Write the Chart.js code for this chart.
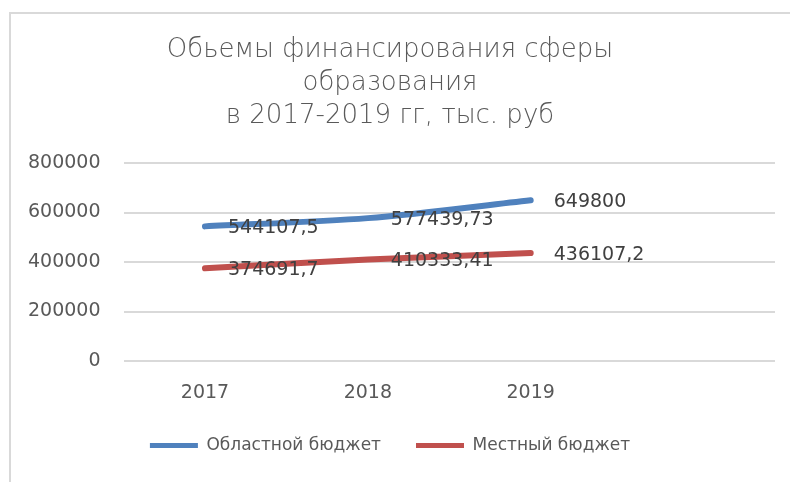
<!DOCTYPE html>
<html>
<head>
<meta charset="utf-8">
<script src="https://cdn.jsdelivr.net/npm/chart.js@4"></script>
<style>
  body { margin: 0; background: #fff; }
  #wrap { position: relative; width: 790px; height: 482px; overflow: hidden; }
  #frame { position: absolute; left: 9px; top: 12px; width: 800px; height: 500px;
           border-left: 2px solid #d9d9d9; border-top: 2px solid #d9d9d9; box-sizing: border-box; }
  canvas { position: absolute; left: 0; top: 0; }
</style>
</head>
<body>
<div id="wrap">
  <div id="frame"></div>
  <canvas id="eduChart" width="790" height="482"></canvas>
</div>
<script>
// Years (last slot is empty, as in the original)
const years = ['2017', '2018', '2019', ''];
const regionalBudget = [544107.5, 577439.73, 649800];
const localBudget = [374691.7, 410333.41, 436107.2];
const yTicks = [0, 200000, 400000, 600000, 800000];

const textColor = '#595959';
const labelFont = { family: 'DejaVu Sans', size: 19 };

// Value labels to the right of each point
const valueLabels = {
    id: 'valueLabels',
    afterDatasetsDraw(chart) {
        const ctx = chart.ctx;
        ctx.save();
        ctx.font = '19px "DejaVu Sans"';
        ctx.fillStyle = '#404040';
        ctx.textBaseline = 'middle';
        ctx.textAlign = 'left';
        chart.data.datasets.forEach((ds, i) => {
            chart.getDatasetMeta(i).data.forEach((pt, j) => {
                const v = ds.data[j];
                if (v == null) return;
                ctx.fillText(String(v).replace('.', ','), pt.x + 23, pt.y + 2);
            });
        });
        ctx.restore();
    }
};

const ctx = document.getElementById('eduChart').getContext('2d');
const eduChart = new Chart(ctx, {
    type: 'line',
    data: {
        labels: years,
        datasets: [{
            label: 'Областной бюджет',
            data: regionalBudget,
            borderColor: '#4f81bd',
            backgroundColor: '#4f81bd',
            borderWidth: 6,
            borderCapStyle: 'round',
            pointRadius: 0,
            tension: 0.3
        }, {
            label: 'Местный бюджет',
            data: localBudget,
            borderColor: '#c0504d',
            backgroundColor: '#c0504d',
            borderWidth: 6,
            borderCapStyle: 'round',
            pointRadius: 0,
            tension: 0.3
        }]
    },
    options: {
        responsive: false,
        animation: false,
        layout: { padding: { top: 34, left: 5, right: 15, bottom: 18 } },
        plugins: {
            title: {
                display: true,
                text: ['Обьемы финансирования сферы', 'образования', 'в 2017-2019 гг, тыс. руб'],
                color: textColor,
                font: { family: 'DejaVu Sans', size: 26, weight: '200', lineHeight: 1.27 },
                padding: { top: 0, bottom: 30 }
            },
            legend: {
                position: 'bottom',
                labels: {
                    color: textColor,
                    font: { family: 'DejaVu Sans', size: 17 },
                    boxWidth: 48,
                    boxHeight: 5,
                    padding: 35,
                    generateLabels: (chart) =>
                        Chart.defaults.plugins.legend.labels.generateLabels(chart).map(l => ({
                            ...l, lineWidth: 0, fillStyle: l.strokeStyle
                        }))
                }
            },
            tooltip: { enabled: false }
        },
        scales: {
            x: {
                offset: true,
                grid: { display: false },
                border: { display: false },
                ticks: { color: textColor, font: labelFont, padding: 13 },
                afterFit: (scale) => { scale.height = 41; }
            },
            y: {
                min: 0,
                max: 800000,
                afterBuildTicks: (axis) => { axis.ticks = yTicks.map(v => ({ value: v })); },
                grid: { color: '#d9d9d9', lineWidth: 2, drawTicks: false },
                border: { display: false },
                ticks: { color: textColor, font: labelFont, padding: 23, callback: v => String(v) }
            }
        }
    },
    plugins: [valueLabels]
});
</script>
</body>
</html>
